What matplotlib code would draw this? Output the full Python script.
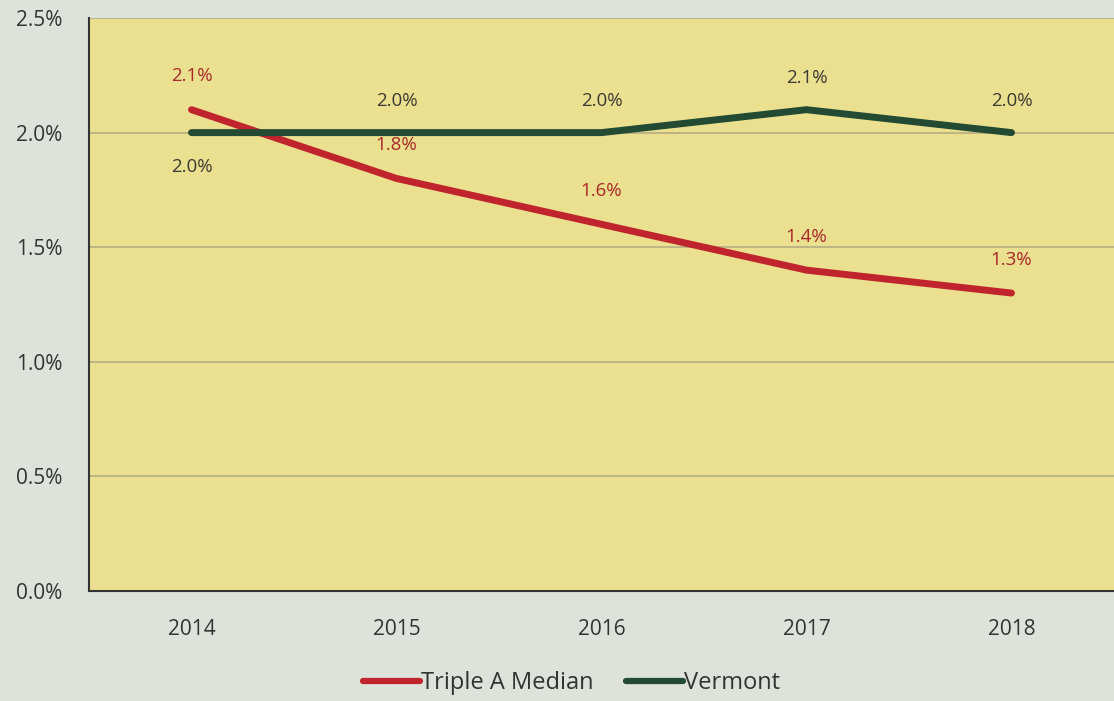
import matplotlib.pyplot as plt
from matplotlib.ticker import FuncFormatter

# Data
years = ['2014', '2015', '2016', '2017', '2018']
triple_a = [2.1, 1.8, 1.6, 1.4, 1.3]
vermont = [2.0, 2.0, 2.0, 2.1, 2.0]

red = '#c0242c'
green = '#234a33'

plt.rcParams['font.family'] = ['Open Sans', 'DejaVu Sans']

fig = plt.figure(figsize=(11.14, 7.01), dpi=100, facecolor='#dde3da')
ax = fig.add_axes([0.0799, 0.1569, 0.9201, 0.8174])
ax.set_facecolor('#ebe08f')

x = range(len(years))
ax.plot(x, triple_a, color=red, lw=5, solid_capstyle='round', label='Triple A Median', zorder=3)
ax.plot(x, vermont, color=green, lw=5, solid_capstyle='round', label='Vermont', zorder=3)

# data labels
for i, v in enumerate(triple_a):
    ax.annotate(f'{v:.1f}%', (i, v), xytext=(0, 24), textcoords='offset points',
                ha='center', va='center', fontsize=13.5, color='#a8282a')
for i, v in enumerate(vermont):
    dy = -25 if i == 0 else 23
    ax.annotate(f'{v:.1f}%', (i, v), xytext=(0, dy), textcoords='offset points',
                ha='center', va='center', fontsize=13.5, color='#3a3a32')

ax.set_xlim(-0.5, 4.5)
ax.set_ylim(0, 2.5)
ax.set_xticks(list(x))
ax.set_xticklabels(years)
ax.set_yticks([0, 0.5, 1.0, 1.5, 2.0, 2.5])
ax.yaxis.set_major_formatter(FuncFormatter(lambda v, p: f'{v:.1f}%'))
ax.tick_params(axis='both', length=0, labelsize=15, colors='#333333')
ax.tick_params(axis='y', pad=19)
ax.tick_params(axis='x', pad=20)
ax.grid(axis='y', color='#b5ad84', lw=1.2)
ax.set_axisbelow(True)

for s in ['top', 'right']:
    ax.spines[s].set_visible(False)
ax.spines['left'].set_color('#333333')
ax.spines['bottom'].set_color('#333333')
ax.spines['left'].set_linewidth(1.5)
ax.spines['bottom'].set_linewidth(1.5)

leg = fig.legend(loc='center', bbox_to_anchor=(0.513, 0.025), ncol=2, frameon=False,
                 fontsize=17, handlelength=2.4, handletextpad=0.05, columnspacing=1.4,
                 labelcolor='#333333')
for h in leg.get_lines():
    h.set_linewidth(4.5)

plt.savefig('out.png', dpi=100, facecolor=fig.get_facecolor())
